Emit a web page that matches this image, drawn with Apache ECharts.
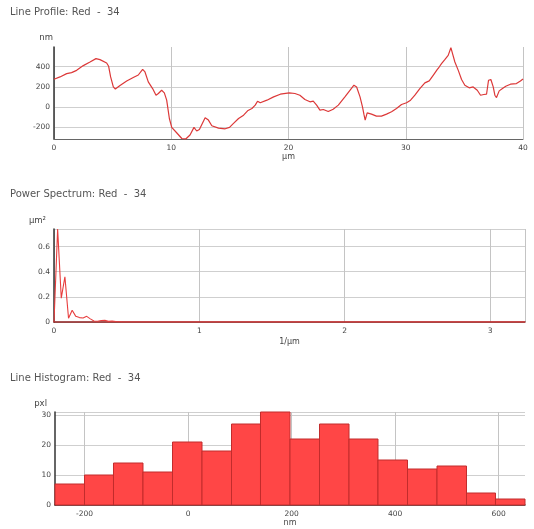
<!DOCTYPE html>
<html>
<head>
<meta charset="utf-8">
<script src="https://cdn.jsdelivr.net/npm/echarts@6/dist/echarts.min.js"></script>
<style>
html, body { margin: 0; padding: 0; background: #fff; }
#c { width: 534px; height: 529px; }
</style>
</head>
<body>
<div id="c"></div>
<script>
// Line profile: position along the line (µm) and height (nm)
const profileX = [0, 0.51, 1.08, 1.5, 1.93, 2.5, 3.07, 3.58, 3.92, 4.49, 4.66, 4.83, 5.06, 5.23, 5.63, 6.2, 6.76, 7.19, 7.56, 7.76,
  8.04, 8.41, 8.7, 8.9, 9.18, 9.41, 9.61, 9.84, 10.04, 10.46, 10.9, 11.26, 11.6, 11.94, 12.17, 12.4, 12.89, 13.17, 13.46, 14.03,
  14.6, 14.97, 15.31, 15.74, 16.17, 16.51, 16.88, 17.16, 17.36, 17.59, 18.16, 18.73, 19.3, 20.06, 20.55, 20.97, 21.4, 21.83, 22.11, 22.4,
  22.68, 22.97, 23.39, 23.81, 24.25, 24.81, 25.24, 25.58, 25.81, 26.1, 26.31, 26.43, 26.54, 26.71, 27.08, 27.5, 27.93, 28.36, 28.79, 29.21,
  29.64, 30.07, 30.41, 30.78, 31.2, 31.63, 32.0, 32.34, 32.68, 32.85, 33.05, 33.33, 33.62, 33.85, 33.99, 34.19, 34.48, 34.76, 35.04, 35.41,
  35.75, 36.1, 36.38, 36.66, 36.89, 37.06, 37.26, 37.46, 37.6, 37.74, 37.97, 38.25, 38.53, 38.93, 39.44, 39.78, 40.0];
const profileY = [276, 299, 332, 342, 364, 411, 447, 480, 470, 437, 404, 299, 200, 180, 214, 259, 293, 318, 374, 348,
  250, 184, 118, 135, 167, 141, 69, -112, -200, -253, -310, -313, -276, -200, -236, -220, -105, -128, -184, -207,
  -214, -200, -161, -112, -79, -36, -13, 20, 59, 43, 69, 102, 128, 141, 135, 118, 76, 53, 59, 20,
  -30, -23, -43, -20, 20, 102, 167, 217, 200, 102, 3, -69, -128, -56, -69, -89, -89, -69, -46, -13,
  26, 43, 69, 118, 184, 240, 260, 315, 371, 397, 430, 470, 512, 588, 529, 447, 364, 273, 217, 191,
  200, 167, 118, 125, 128, 266, 273, 200, 118, 95, 161, 184, 207, 227, 233, 259, 279];

// Power spectrum: spatial frequency (1/µm) and power (µm²)
const spectrumF = [0, 0.025, 0.05, 0.075, 0.1, 0.125, 0.15, 0.175, 0.2, 0.225, 0.25, 0.275, 0.3, 0.325, 0.35, 0.375, 0.4, 0.425, 0.45, 0.475, 0.5, 3.24];
const spectrumP = [0, 0.74, 0.19, 0.36, 0.03, 0.093, 0.045, 0.035, 0.032, 0.045, 0.025, 0.008, 0.006, 0.012, 0.013, 0.005, 0.008, 0.004, 0.002, 0, 0, 0];

// Height histogram: bin edges (nm) and pixel counts per bin
const histEdges = [-257, -200, -144, -87, -30, 27, 84, 140, 197, 254, 311, 367, 424, 481, 538, 594, 651];
const histCounts = [7, 10, 14, 11, 21, 18, 27, 31, 22, 27, 22, 15, 12, 13, 4, 2];

// Tick values on the axes whose range does not start at a round number
const profileTicks = [-200, 0, 200, 400];
const histTicks = [-200, 0, 200, 400, 600];

const titles = ['Line Profile: Red  -  34', 'Power Spectrum: Red  -  34', 'Line Histogram: Red  -  34'];

const FONT = 'DejaVu Sans';
const labelStyle = { color: '#444', fontSize: 7.5, fontFamily: FONT };
const gridLine = { show: true, lineStyle: { color: '#cfcfcf', width: 1 } };
const vGridLine = { show: true, lineStyle: { color: '#c4c4c4', width: 1 } };

function xAxisBase(gridIndex, name, nameGap) {
  return {
    type: 'value', gridIndex: gridIndex,
    name: name, nameLocation: 'middle', nameGap: nameGap,
    nameTextStyle: { color: '#444', fontSize: 8, fontFamily: FONT },
    axisLine: { show: true, onZero: false, lineStyle: { color: '#666', width: 1 } },
    axisTick: { show: false },
    axisLabel: Object.assign({ margin: 5 }, labelStyle),
    splitLine: vGridLine
  };
}
function yAxisBase(gridIndex, name, nameGap, padRight) {
  return {
    type: 'value', gridIndex: gridIndex,
    name: name, nameLocation: 'end', nameGap: nameGap,
    nameTextStyle: { color: '#444', fontSize: 8.5, fontFamily: FONT, align: 'right', padding: [0, padRight, 0, 0] },
    axisLine: { show: true, onZero: false, lineStyle: { color: '#333', width: 1.5 } },
    axisTick: { show: false },
    axisLabel: Object.assign({ margin: 4 }, labelStyle),
    splitLine: gridLine
  };
}

const xAxes = [
  Object.assign(xAxisBase(0, 'µm', 14), { min: 0, max: 40, interval: 10 }),
  Object.assign(xAxisBase(1, '1/µm', 16), { min: 0, max: 3.24, interval: 1 }),
  Object.assign(xAxisBase(2, 'nm', 14), { min: -257, max: 651 })
];
xAxes[1].axisLabel.showMaxLabel = false;
xAxes[1].axisLine.lineStyle = { color: '#8a1a1a', width: 1.5 };
xAxes[2].axisLabel.customValues = histTicks;
xAxes[2].axisTick = { show: false, customValues: histTicks };
xAxes[2].axisLine.lineStyle = { color: '#333', width: 1.5 };

const yAxes = [
  Object.assign(yAxisBase(0, 'nm', 5, 1), { min: -315, max: 595 }),
  Object.assign(yAxisBase(1, 'µm²', 4, 8), { min: 0, max: 0.74, interval: 0.2 }),
  Object.assign(yAxisBase(2, 'pxl', 4, 8), { min: 0, max: 31, interval: 10 })
];
yAxes[0].axisLabel.customValues = profileTicks;
yAxes[0].axisTick = { show: false, customValues: profileTicks };
yAxes[1].axisLabel.showMaxLabel = false;
yAxes[2].axisLabel.showMaxLabel = false;

const chart = echarts.init(document.getElementById('c'), null, { renderer: 'canvas' });
chart.setOption({
  animation: false,
  backgroundColor: '#fff',
  title: titles.map(function (t, i) {
    return { text: t, left: 10, top: [7, 189, 373][i], padding: 0,
      textStyle: { color: '#555', fontSize: 10, fontWeight: 'normal', fontFamily: FONT } };
  }),
  grid: [
    { left: 54, right: 11, top: 47, height: 92 },
    { left: 54, right: 9, top: 229, height: 93 },
    { left: 55, right: 9, top: 412, height: 93 }
  ],
  xAxis: xAxes,
  yAxis: yAxes,
  series: [
    {
      type: 'line', xAxisIndex: 0, yAxisIndex: 0,
      data: profileX.map(function (x, i) { return [x, profileY[i]]; }),
      showSymbol: false, smooth: false, clip: false,
      lineStyle: { color: '#dc3838', width: 1.2 }
    },
    {
      type: 'line', xAxisIndex: 1, yAxisIndex: 1,
      data: spectrumF.map(function (f, i) { return [f, spectrumP[i]]; }),
      showSymbol: false, smooth: false,
      lineStyle: { color: '#e83e3e', width: 1.1 }
    },
    {
      type: 'custom', xAxisIndex: 2, yAxisIndex: 2,
      data: histCounts.map(function (c, i) { return [histEdges[i], histEdges[i + 1], c]; }),
      encode: { x: [0, 1], y: 2 },
      renderItem: function (params, api) {
        const topLeft = api.coord([api.value(0), api.value(2)]);
        const bottomRight = api.coord([api.value(1), 0]);
        return {
          type: 'rect',
          shape: { x: topLeft[0], y: topLeft[1], width: bottomRight[0] - topLeft[0], height: bottomRight[1] - topLeft[1] },
          style: { fill: '#ff4646', stroke: '#c22c2c', lineWidth: 1 }
        };
      }
    }
  ]
});
</script>
</body>
</html>
